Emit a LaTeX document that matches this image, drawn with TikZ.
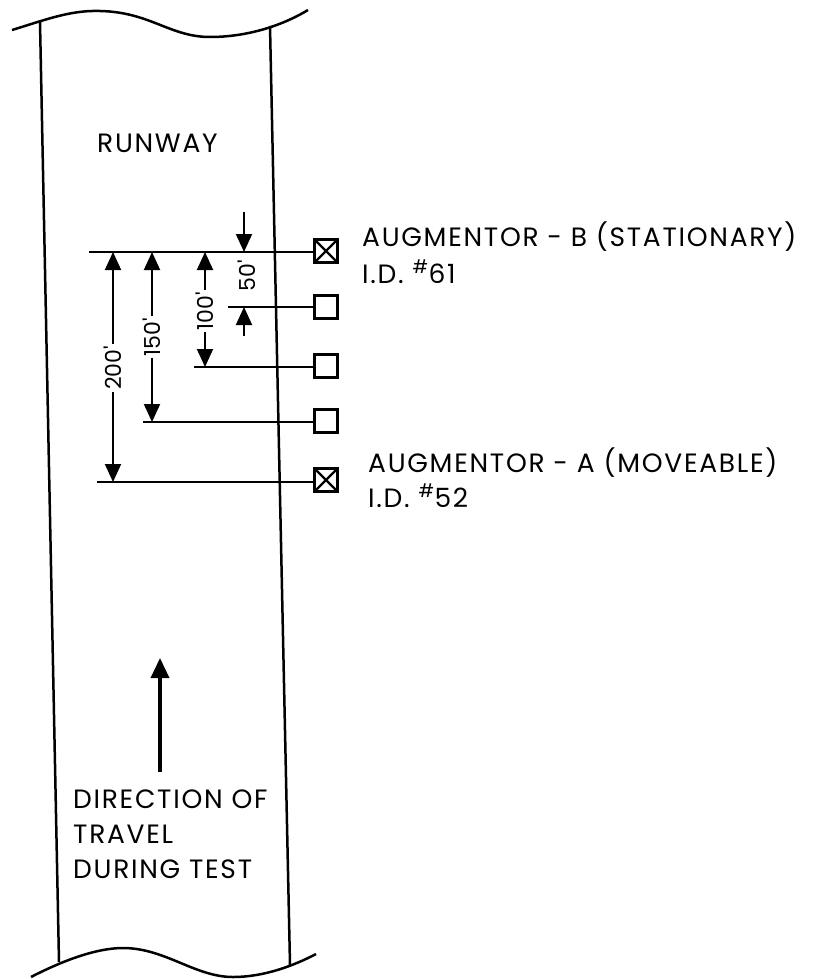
\documentclass[tikz,border=0pt]{standalone}
\usepackage{fontspec}
\setmainfont{Poppins}
\newfontfamily\labelfont{Poppins}[LetterSpace=6.5]
\usetikzlibrary{arrows.meta, positioning}

\begin{document}
\begin{tikzpicture}[x=1pt, y=-1pt,
    edge/.style={line width=2.5pt},
    dim/.style={line width=1.9pt},
    dimarr/.style={dim, -{Triangle[length=18pt, width=16pt]}},
    aug/.style={rectangle, draw, line width=3pt,
        minimum size=23pt, inner sep=0pt},
    xaug/.style={aug, path picture={
        \draw[line width=2.2pt] (path picture bounding box.south west) -- (path picture bounding box.north east)
            (path picture bounding box.north west) -- (path picture bounding box.south east);}},
    lbl/.style={font=\labelfont\fontsize{26.5}{35}\selectfont, inner sep=0pt},
    dimlbl/.style={font=\fontsize{22}{24}\selectfont, rotate=90, inner sep=2pt}
]
\useasboundingbox (0,0) rectangle (816,979);

% runway edges
\draw[edge] (40,22) -- (59,962);
\draw[edge] (270,26) -- (290,965);
\draw[edge] (12,30) .. controls (45,20) and (70,10) .. (100,11)
    .. controls (150,12) and (170,37) .. (210,37)
    .. controls (250,37) and (285,24) .. (308,10);
\draw[edge] (31,977) .. controls (60,962) and (95,948) .. (123,948)
    .. controls (165,948) and (195,977) .. (233,977)
    .. controls (265,977) and (295,965) .. (316,954);

\node[lbl, anchor=base west] (runway) at (97,152) {RUNWAY};

% augmentors
\node[xaug] (augB) at (326,251) {};
\node[aug] (aug50) at (326,307) {};
\node[aug] (aug100) at (326,366) {};
\node[aug] (aug150) at (326,421) {};
\node[xaug] (augA) at (326,480) {};

\node[lbl, anchor=base west] (labB) at (362,246) {AUGMENTOR - B (STATIONARY)};
\node[lbl, anchor=base west] (idB) at (362,283) {I.D.\ \textsuperscript{\#}61};
\node[lbl, anchor=base west] (labA) at (368,472) {AUGMENTOR - A (MOVEABLE)};
\node[lbl, anchor=base west] (idA) at (368,507) {I.D.\ \textsuperscript{\#}52};

% extension lines
\coordinate (eB) at (89,252);
\coordinate (e50) at (228,307);
\coordinate (e100) at (194,367);
\coordinate (e150) at (143,422);
\coordinate (eA) at (97,482);
\draw[dim] (eB) -- (eB -| augB.west);
\draw[dim] (e50) -- (e50 -| aug50.west);
\draw[dim] (e100) -- (e100 -| aug100.west);
\draw[dim] (e150) -- (e150 -| aug150.west);
\draw[dim] (eA) -- (eA -| augA.west);

% dimensions
\node[dimlbl] (d200) at (113,368) {200\textquotesingle};
\node[dimlbl] (d150) at (152,337) {150\textquotesingle};
\node[dimlbl] (d100) at (205,311) {100\textquotesingle};
\node[dimlbl] (d50) at (247,276) {50\textquotesingle};
\draw[dimarr] (d200) -- (eB -| d200);
\draw[dimarr] (d200) -- (eA -| d200);
\draw[dimarr] (d150) -- (eB -| d150);
\draw[dimarr] (d150) -- (e150 -| d150);
\draw[dimarr] (d100) -- (eB -| d100);
\draw[dimarr] (d100) -- (e100 -| d100);
\coordinate (t50) at (244,212);
\coordinate (b50) at (244,336);
\draw[dimarr] (t50) -- (eB -| t50);
\draw[dimarr] (b50) -- (e50 -| b50);

% direction of travel
\node[lbl, anchor=north west, align=left] (dir) at (73,790) {DIRECTION OF\\TRAVEL\\DURING TEST};
\coordinate (dirtail) at (160,772);
\coordinate (dirtip) at (160,658);
\draw[line width=3.5pt, -{Triangle[length=20pt, width=18pt]}] (dirtail) -- (dirtip);
\end{tikzpicture}
\end{document}
